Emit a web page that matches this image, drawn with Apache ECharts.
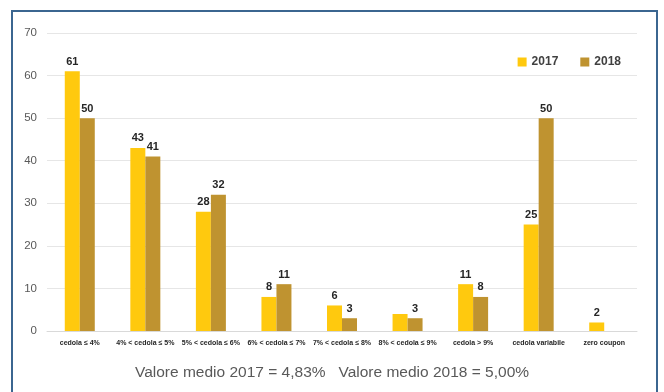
<!DOCTYPE html>
<html><head><meta charset="utf-8">
<script src="https://cdn.jsdelivr.net/npm/echarts@6/dist/echarts.min.js"></script>
<style>
html,body{margin:0;padding:0;background:#fff;}
#c{width:664px;height:392px;}
</style></head>
<body><div id="c"></div>
<script>
const categories = ['cedola ≤ 4%','4% < cedola ≤ 5%','5% < cedola ≤ 6%','6% < cedola ≤ 7%','7% < cedola ≤ 8%','8% < cedola ≤ 9%','cedola > 9%','cedola variabile','zero coupon'];
const values2017 = [61,43,28,8,6,4,11,25,2];
const values2018 = [50,41,32,11,3,3,8,50,0];
const labels2017 = ['61','43','28','8','6','','11','25','2'];
const labels2018 = ['50','41','32','11','3','3','8','50',''];
const yTicks = [0,10,20,30,40,50,60,70];
const footer = 'Valore medio 2017 = 4,83%   Valore medio 2018 = 5,00%';

const chart = echarts.init(document.getElementById('c'), null, {renderer:'canvas'});
const lbl = (arr) => ({show:true, position:'top', distance:4, color:'#262626', fontWeight:'bold', fontSize:11, fontFamily:'Liberation Sans, Arial, sans-serif', formatter: p => arr[p.dataIndex]});
chart.setOption({
  animation:false,
  graphic:[
    {type:'rect', shape:{x:12,y:11,width:645,height:390}, style:{fill:'none', stroke:'#3b6690', lineWidth:2}, z:-1},
    {type:'text', left:'center', top:365, style:{text:footer, fontSize:15.5, fill:'#595959', fontFamily:'Liberation Sans, Arial, sans-serif'}}
  ],
  legend:{
    data:['2017','2018'], right:38, top:51, itemWidth:9, itemHeight:9, itemGap:22, icon:'rect',
    textStyle:{fontSize:12, fontWeight:'bold', color:'#404040', fontFamily:'Liberation Sans, Arial, sans-serif'}
  },
  grid:{left:47, right:27, top:33, bottom:61, containLabel:false},
  xAxis:{
    type:'category', data:categories,
    axisLine:{show:true, lineStyle:{color:'#d9d9d9'}}, axisTick:{show:false},
    axisLabel:{interval:0, fontSize:7, fontWeight:'bold', color:'#262626', margin:9, fontFamily:'Liberation Sans, Arial, sans-serif'}
  },
  yAxis:{
    type:'value', min:0, max:70, interval:10,
    axisLine:{show:false}, axisTick:{show:false},
    splitLine:{lineStyle:{color:'#e6e6e6'}},
    axisLabel:{color:'#595959', fontSize:11.5, margin:10, fontFamily:'Liberation Sans, Arial, sans-serif', formatter: v => yTicks.includes(v) ? String(v) : ''}
  },
  series:[
    {name:'2017', type:'bar', data:values2017, barWidth:15, barGap:'0%', itemStyle:{color:'#ffc90e'}, label:lbl(labels2017)},
    {name:'2018', type:'bar', data:values2018, barWidth:15, barGap:'0%', itemStyle:{color:'#bf9330'}, label:lbl(labels2018)}
  ]
});
</script></body></html>
